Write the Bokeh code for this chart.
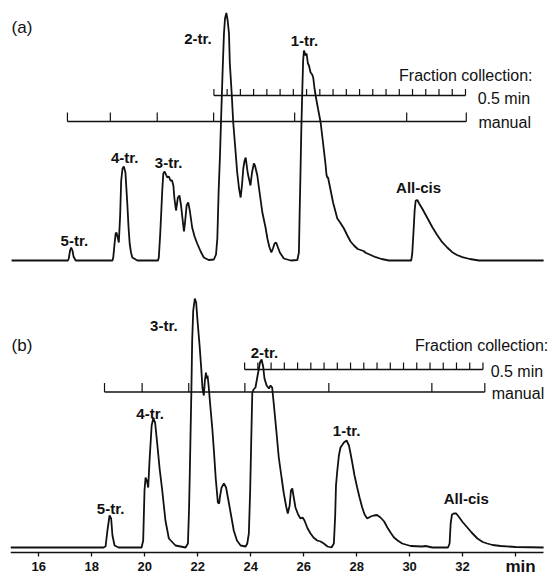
from bokeh.plotting import figure
from bokeh.models import Range1d, FixedTicker, ColumnDataSource
from bokeh.core.properties import value
from bokeh.embed import file_html
from bokeh.resources import INLINE

# ---------------- data (retention time in min, detector signal in arbitrary units) -------------
time_a = [14.97, 17.10, 17.13, 17.18, 17.22, 17.27, 17.31, 17.39, 18.78, 18.81, 18.86, 18.90, 18.93,
          18.97, 19.02, 19.07, 19.11, 19.16, 19.21, 19.27, 19.34, 19.39, 19.43, 19.48, 19.53, 19.72,
          20.50, 20.53, 20.58, 20.62, 20.66, 20.70, 20.75, 20.80, 20.85, 20.91, 20.97, 21.03, 21.08,
          21.12, 21.18, 21.25, 21.31, 21.37, 21.42, 21.48, 21.52, 21.58, 21.64, 21.70, 21.79, 21.88,
          21.98, 22.11, 22.23, 22.41, 22.61, 22.69, 22.74, 22.79, 22.84, 22.88, 22.94, 22.99, 23.03,
          23.08, 23.13, 23.18, 23.21, 23.28, 23.34, 23.41, 23.49, 23.56, 23.62, 23.67, 23.72, 23.77,
          23.81, 23.85, 23.89, 23.95, 23.99, 24.05, 24.12, 24.16, 24.25, 24.31, 24.44, 24.56, 24.63,
          24.70, 24.78, 24.84, 24.90, 24.96, 25.03, 25.10, 25.25, 25.51, 25.76, 25.82, 25.85, 25.88,
          25.91, 25.95, 25.98, 26.01, 26.04, 26.07, 26.11, 26.16, 26.20, 26.26, 26.32, 26.36, 26.41,
          26.45, 26.54, 26.64, 26.73, 26.83, 26.86, 26.89, 26.92, 27.02, 27.11, 27.21, 27.27, 27.39,
          27.52, 27.65, 27.77, 27.90, 28.04, 28.15, 28.26, 28.34, 28.53, 28.72, 28.94, 29.22, 30.06,
          30.10, 30.15, 30.19, 30.23, 30.29, 30.36, 30.48, 30.64, 30.86, 31.04, 31.23, 31.42, 31.61,
          31.79, 31.99, 32.27, 32.62, 35.06]
signal_a = [0, 0, 2, 10, 13, 10, 4, 0, 0, 3, 17, 27, 28,
            24, 18, 45, 80, 92, 94, 88, 57, 32, 17, 8, 3, 0,
            0, 3, 25, 47, 70, 87, 89, 86, 83, 84, 80, 80, 75,
            62, 50, 63, 65, 55, 43, 29, 38, 55, 58, 50, 33, 24,
            17, 9, 3, 0.5, 1, 6, 22, 70, 105, 140, 190, 227, 242,
            247.5, 240, 227, 198, 168, 138, 115, 88, 72, 63, 75, 92, 100,
            103, 95, 87, 80, 75, 88, 97, 95, 85, 73, 48, 33, 22,
            14, 8, 12, 17, 18, 13, 8, 2, 0, 0.5, 8, 50, 88,
            130, 172, 200, 210, 208, 205, 207, 197, 195, 188, 186, 183, 172,
            165, 152, 138, 118, 95, 86, 83, 83, 70, 58, 48, 42, 37.5,
            32, 25, 19, 15, 11.5, 10.5, 9.5, 7.7, 5.5, 3.3, 1.5, 0, 0,
            7, 30, 50, 60, 60.5, 57, 51.7, 44, 33.3, 25.5, 18.3, 13, 8.3,
            5.5, 3.3, 1.5, 0, 0]

time_b = [14.93, 18.44, 18.52, 18.59, 18.67, 18.73, 18.78, 18.86, 19.01, 19.88, 19.94, 19.99, 20.03,
          20.08, 20.13, 20.18, 20.26, 20.32, 20.39, 20.47, 20.56, 20.66, 20.78, 20.91, 21.16, 21.54,
          21.63, 21.67, 21.70, 21.76, 21.79, 21.83, 21.89, 21.94, 22.00, 22.07, 22.13, 22.18, 22.23,
          22.27, 22.31, 22.34, 22.37, 22.41, 22.48, 22.55, 22.61, 22.68, 22.76, 22.81, 22.84, 22.90,
          22.99, 23.07, 23.18, 23.28, 23.36, 23.48, 23.62, 23.81, 23.87, 23.93, 23.98, 24.02, 24.06,
          24.11, 24.18, 24.24, 24.31, 24.35, 24.41, 24.47, 24.52, 24.60, 24.69, 24.75, 24.81, 24.87,
          24.96, 25.06, 25.17, 25.25, 25.34, 25.40, 25.47, 25.52, 25.57, 25.62, 25.69, 25.79, 25.88,
          25.96, 26.03, 26.15, 26.26, 26.37, 26.51, 26.64, 26.76, 26.90, 27.05, 27.14, 27.19, 27.22,
          27.27, 27.33, 27.39, 27.52, 27.62, 27.71, 27.77, 27.84, 27.92, 28.02, 28.11, 28.21, 28.30,
          28.40, 28.53, 28.65, 28.77, 28.90, 29.04, 29.16, 29.28, 29.41, 29.55, 29.72, 30.04, 30.48,
          30.60, 30.86, 31.45, 31.51, 31.55, 31.60, 31.67, 31.76, 31.85, 32.00, 32.18, 32.34, 32.56,
          32.76, 32.93, 33.13, 33.44, 34.00, 35.06]
signal_b = [0, 0, 1, 17, 32, 29, 12, 2, 0, 0, 7, 57, 70,
            67, 60, 87, 122, 129, 125, 104, 79, 57, 27, 9, 2, 0,
            4, 37, 74, 157, 207, 237, 249, 245, 224, 202, 180, 159, 152,
            167, 175, 169, 172, 162, 140, 119, 97, 69, 45, 44, 51, 60,
            64, 60, 44, 29, 17, 7, 2, 1, 4, 14, 57, 107, 155,
            158, 160, 169, 179, 185, 188, 181, 169, 162, 159, 162, 160, 144,
            119, 90, 69, 54, 41, 34, 42, 57, 59, 51, 40, 33, 29,
            30, 27, 19, 14, 10, 7, 6, 4, 1, 0, 4, 32, 62,
            77, 92, 100, 105, 107, 102, 94, 84, 72, 60, 50, 40, 33,
            29, 31, 32, 32.5, 30, 26, 20, 15, 10, 7, 4, 1.5, 1,
            1.5, 0, 0, 4, 24, 33, 34, 34, 31, 25.5, 20, 15, 9,
            5.5, 4, 2.5, 1.5, 0.5, 0]

peak_names = ["5-tr.", "4-tr.", "3-tr.", "2-tr.", "1-tr.", "All-cis"]
peak_time_a = [17.34, 19.24, 20.90, 22.01, 26.03, 30.34]
peak_time_b = [18.71, 20.20, 20.72, 24.52, 27.62, 32.14]

# fraction collection marks (min)
frac05_a = [22.61, 23.11, 23.61, 24.11, 24.61, 25.11, 25.61, 26.11, 26.61, 27.11,
            27.61, 28.11, 28.61, 29.11, 29.61, 30.11, 30.61, 31.11, 31.61, 32.11]
manual_a = [17.08, 18.70, 20.47, 22.60, 25.66, 29.89, 32.14]
frac05_b = [23.77, 24.27, 24.77, 25.27, 25.77, 26.27, 26.77, 27.27, 27.77, 28.27,
            28.77, 29.27, 29.77, 30.27, 30.77, 31.27, 31.77, 32.27, 32.77]
manual_b = [18.48, 19.90, 21.66, 23.78, 26.95, 30.84, 32.84]

x_ticks = [16, 18, 20, 22, 24, 26, 28, 30, 32, 34]

# ---------------- layout ----------------
BASE_A = 292      # vertical offset of trace (a)
BASE_B = 5        # vertical offset of trace (b)
FONT = "Liberation Sans"
INK = "#111111"

p = figure(width=550, height=574, output_backend="svg", toolbar_location=None,
           x_range=Range1d(14.93, 35.32), y_range=Range1d(-22, 552),
           y_axis_location=None, min_border_left=10, min_border_right=0,
           min_border_top=0, min_border_bottom=0)
p.outline_line_color = None
p.grid.visible = False
p.background_fill_color = "white"

ax = p.xaxis[0]
ax.fixed_location = 0
ax.bounds = (14.93, 35.06)
ax.ticker = FixedTicker(ticks=x_ticks)
ax.major_label_overrides = {34: ""}
ax.minor_tick_line_color = None
ax.major_tick_in = 0
ax.major_tick_out = 4
ax.major_label_standoff = 5
ax.axis_line_width = 1.5
ax.axis_line_color = INK
ax.major_tick_line_color = INK
ax.major_tick_line_width = 1.3
ax.major_label_text_font = FONT
ax.major_label_text_font_style = "bold"
ax.major_label_text_font_size = "13px"
ax.major_label_text_color = INK

# traces
p.line(time_a, [s + BASE_A for s in signal_a], line_color=INK, line_width=1.8)
p.line(time_b, [s + BASE_B for s in signal_b], line_color=INK, line_width=1.8)


def scale(ticks, y, h):
    p.segment(x0=[ticks[0]], y0=[y], x1=[ticks[-1]], y1=[y], line_color=INK, line_width=1.3)
    p.segment(x0=ticks, y0=[y] * len(ticks), x1=ticks, y1=[y + h] * len(ticks),
              line_color=INK, line_width=1.2)


scale(frac05_a, BASE_A + 165, 6.5)
scale(manual_a, BASE_A + 139, 9)
scale(frac05_b, BASE_B + 178, 7)
scale(manual_b, BASE_B + 155.5, 9)

# peak labels
lab_h_a = [20, 102.7, 98.3, 222, 220, 73]
lab_h_b = [38.7, 133.7, 222, 195.3, 117, 49]
src = ColumnDataSource(dict(
    x=peak_time_a + peak_time_b,
    y=[h + BASE_A for h in lab_h_a] + [h + BASE_B for h in lab_h_b],
    t=peak_names + peak_names))
p.text(x="x", y="y", text="t", source=src, text_align="center", text_baseline="alphabetic",
       text_font=value(FONT), text_font_style="bold", text_font_size="15px", text_color=INK)

# panel letters
p.text(x=[14.97, 14.97], y=[525, 207], text=["(a)", "(b)"], text_align="left",
       text_baseline="alphabetic", text_font=value(FONT), text_font_size="17px", text_color=INK)

# fraction collection texts
p.text(x=[34.64], y=[BASE_A + 185], text=["Fraction collection:"], text_align="right",
       text_baseline="alphabetic", text_font=value(FONT), text_font_size="16px", text_color=INK)
p.text(x=[32.57, 32.60], y=[BASE_A + 161.7, BASE_A + 138.3], text=["0.5 min", "manual"],
       text_align="left", text_baseline="alphabetic", text_font=value(FONT),
       text_font_size="16px", text_color=INK)
p.text(x=[30.20], y=[BASE_B + 202], text=["Fraction collection:"], text_align="left",
       text_baseline="alphabetic", text_font=value(FONT), text_font_size="16px", text_color=INK)
p.text(x=[33.06, 33.10], y=[BASE_B + 176.5, BASE_B + 154], text=["0.5 min", "manual"],
       text_align="left", text_baseline="alphabetic", text_font=value(FONT),
       text_font_size="16px", text_color=INK)

# axis unit
p.text(x=[34.19], y=[-13.5], text=["min"], text_align="center", text_baseline="alphabetic",
       text_font=value(FONT), text_font_style="bold", text_font_size="17px", text_color=INK)

open("out.html", "w").write(file_html(p, INLINE))
